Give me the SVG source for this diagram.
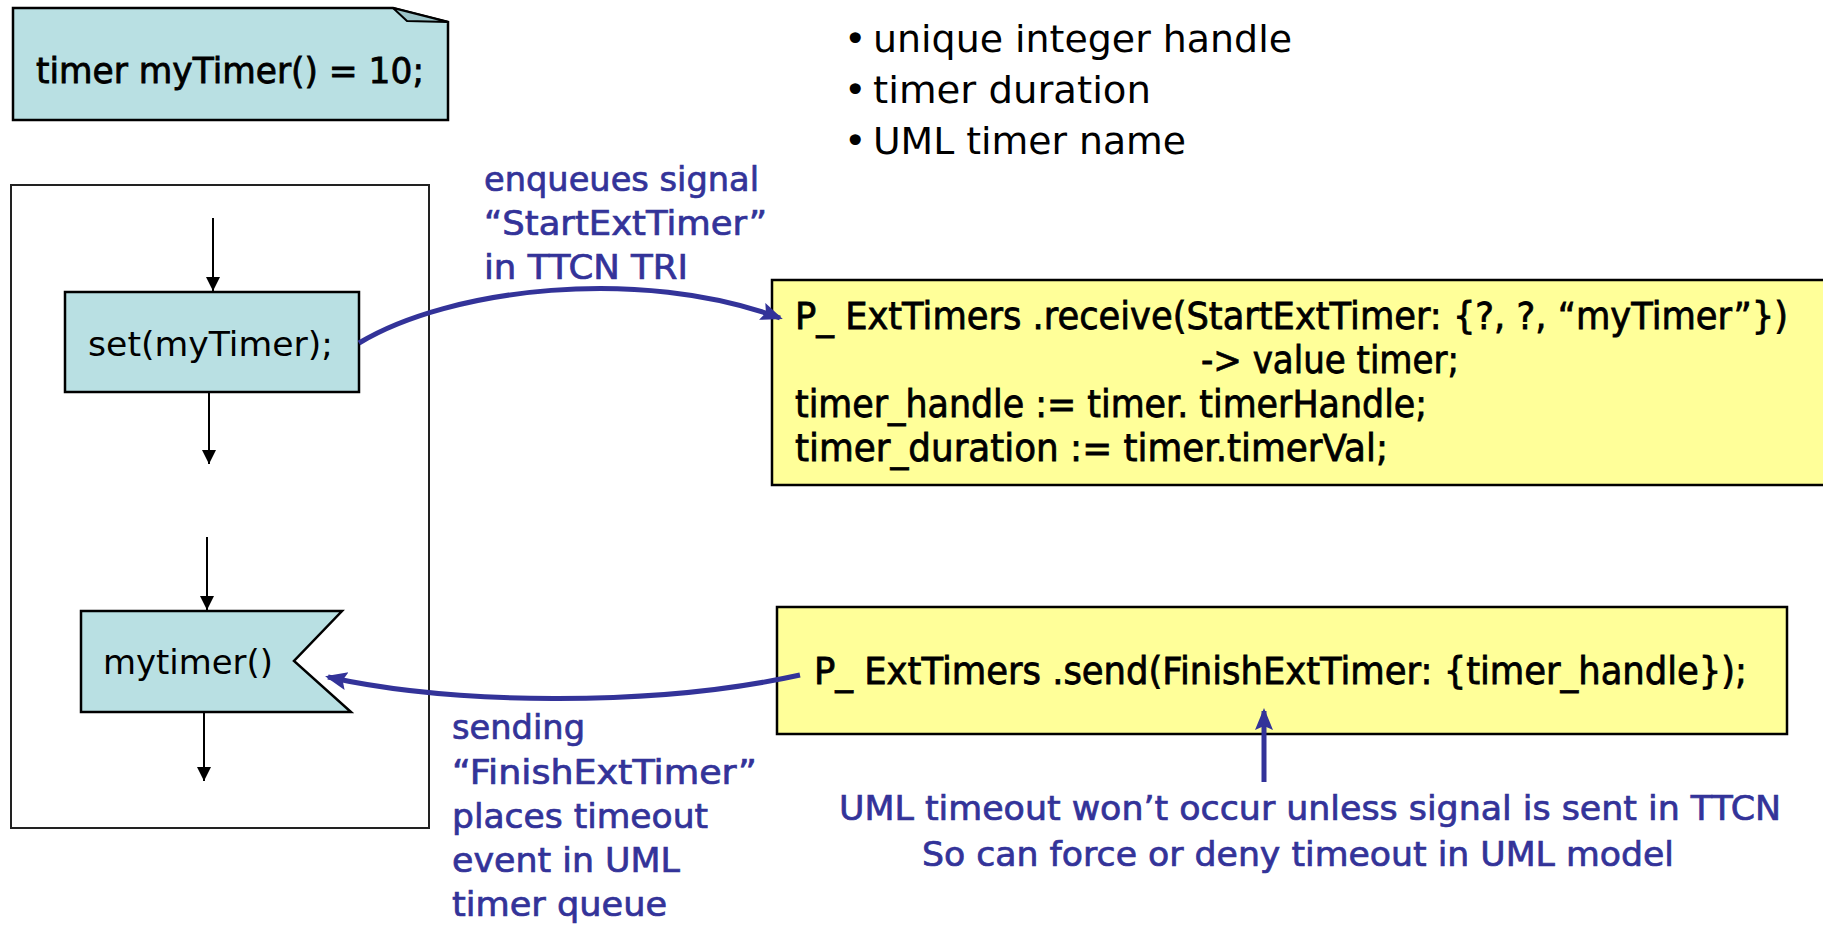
<svg xmlns="http://www.w3.org/2000/svg" width="1823" height="925" viewBox="0 0 1823 925">
  <style>
    .bg { fill: #ffffff; }
    .teal { fill: #b9e0e3; stroke: #000000; stroke-width: 2.5; }
    .fold { fill: #9cc4c8; stroke: #000000; stroke-width: 2; stroke-linejoin: round; }
    .yellow { fill: #ffff99; stroke: #000000; stroke-width: 2.5; }
    .frame { fill: none; stroke: #222222; stroke-width: 2; }
    .t { font-family: "DejaVu Sans", Verdana, sans-serif; fill: #000000; }
    .heavy { stroke: #000000; stroke-width: 0.8; }
    .b { font-family: "DejaVu Sans", Verdana, sans-serif; fill: #333399; stroke: #333399; stroke-width: 0.7; }
    .flow { fill: none; stroke: #000000; stroke-width: 2; }
    .sig { fill: none; stroke: #333399; stroke-width: 5; }
  </style>
  <defs>
    <marker id="blackHead" markerUnits="userSpaceOnUse" markerWidth="16" markerHeight="16" refX="14" refY="7" orient="auto">
      <path d="M0,0 L14,7 L0,14 Z" fill="#000000"/>
    </marker>
    <marker id="blueHead" markerUnits="userSpaceOnUse" markerWidth="26" markerHeight="22" refX="19" refY="9" orient="auto">
      <path d="M0,0 L22,9 L0,18 L4,9 Z" fill="#333399"/>
    </marker>
  </defs>

  <rect class="bg" x="0" y="0" width="1823" height="925"/>

  <!-- timer declaration note -->
  <g id="timer-declaration">
    <path class="teal" d="M13,8 L393,8 L448,22 L448,120 L13,120 Z"/>
    <path class="fold" d="M393,8 L407,21 L448,22 Z"/>
    <text class="t heavy" x="36" y="83" font-size="35" textLength="388" lengthAdjust="spacingAndGlyphs">timer myTimer() = 10;</text>
  </g>

  <!-- signal contents list -->
  <g id="signal-fields">
    <text class="t" x="844" y="52" font-size="38">•</text>
    <text class="t" x="873" y="52" font-size="38" textLength="419" lengthAdjust="spacingAndGlyphs">unique integer handle</text>
    <text class="t" x="844" y="103" font-size="38">•</text>
    <text class="t" x="873" y="103" font-size="38" textLength="278" lengthAdjust="spacingAndGlyphs">timer duration</text>
    <text class="t" x="844" y="154" font-size="38">•</text>
    <text class="t" x="873" y="154" font-size="38" textLength="313" lengthAdjust="spacingAndGlyphs">UML timer name</text>
  </g>

  <!-- state machine frame -->
  <g id="state-machine">
    <rect class="frame" x="11" y="185" width="418" height="643"/>
  </g>

  <g id="set-timer">
    <rect class="teal" x="65" y="292" width="294" height="100"/>
    <text class="t" x="88" y="356" font-size="34" textLength="245" lengthAdjust="spacingAndGlyphs">set(myTimer);</text>
  </g>

  <g id="timeout-receive">
    <path class="teal" d="M81,611 L342,611 L294,661 L351,712 L81,712 Z"/>
    <text class="t" x="103" y="674" font-size="34" textLength="170" lengthAdjust="spacingAndGlyphs">mytimer()</text>
  </g>

  <!-- TTCN receive block, running past the right edge -->
  <g id="ttcn-receive">
    <path class="yellow" d="M1826,280 L772,280 L772,485 L1826,485"/>
    <text class="t heavy" x="795" y="329" font-size="37" textLength="993" lengthAdjust="spacingAndGlyphs">P_ ExtTimers .receive(StartExtTimer: {?, ?, “myTimer”})</text>
    <text class="t heavy" x="1201" y="373" font-size="37" textLength="258" lengthAdjust="spacingAndGlyphs">-&gt; value timer;</text>
    <text class="t heavy" x="795" y="417" font-size="37" textLength="632" lengthAdjust="spacingAndGlyphs">timer_handle := timer. timerHandle;</text>
    <text class="t heavy" x="795" y="461" font-size="37" textLength="593" lengthAdjust="spacingAndGlyphs">timer_duration := timer.timerVal;</text>
  </g>

  <!-- TTCN send block -->
  <g id="ttcn-send">
    <rect class="yellow" x="777" y="607" width="1010" height="127"/>
    <text class="t heavy" x="814" y="684" font-size="37" textLength="933" lengthAdjust="spacingAndGlyphs">P_ ExtTimers .send(FinishExtTimer: {timer_handle});</text>
  </g>

  <!-- annotations -->
  <g id="note-enqueue">
    <text class="b" x="484" y="191" font-size="33" textLength="275" lengthAdjust="spacingAndGlyphs">enqueues signal</text>
    <text class="b" x="484" y="235" font-size="33" textLength="283" lengthAdjust="spacingAndGlyphs">“StartExtTimer”</text>
    <text class="b" x="484" y="279" font-size="33" textLength="204" lengthAdjust="spacingAndGlyphs">in TTCN TRI</text>
  </g>

  <g id="note-finish">
    <text class="b" x="452" y="739" font-size="33" textLength="133" lengthAdjust="spacingAndGlyphs">sending</text>
    <text class="b" x="452" y="784" font-size="33" textLength="305" lengthAdjust="spacingAndGlyphs">“FinishExtTimer”</text>
    <text class="b" x="452" y="828" font-size="33" textLength="256" lengthAdjust="spacingAndGlyphs">places timeout</text>
    <text class="b" x="452" y="872" font-size="33" textLength="228" lengthAdjust="spacingAndGlyphs">event in UML</text>
    <text class="b" x="452" y="916" font-size="33" textLength="215" lengthAdjust="spacingAndGlyphs">timer queue</text>
  </g>

  <g id="note-timeout">
    <text class="b" x="839" y="820" font-size="33" textLength="942" lengthAdjust="spacingAndGlyphs">UML timeout won’t occur unless signal is sent in TTCN</text>
    <text class="b" x="922" y="866" font-size="33" textLength="752" lengthAdjust="spacingAndGlyphs">So can force or deny timeout in UML model</text>
  </g>

  <!-- connectors -->
  <g id="connectors">
    <path class="flow" d="M213,218 L213,291" marker-end="url(#blackHead)"/>
    <path class="flow" d="M209,392 L209,464" marker-end="url(#blackHead)"/>
    <path class="flow" d="M207,537 L207,610" marker-end="url(#blackHead)"/>
    <path class="flow" d="M204,712 L204,781" marker-end="url(#blackHead)"/>
    <path class="sig" d="M359,343 C450,288 640,266 780,318" marker-end="url(#blueHead)"/>
    <path class="sig" d="M800,675 C650,708 450,704 328,677" marker-end="url(#blueHead)"/>
    <path class="sig" d="M1264,782 L1264,711" marker-end="url(#blueHead)"/>
  </g>
</svg>
